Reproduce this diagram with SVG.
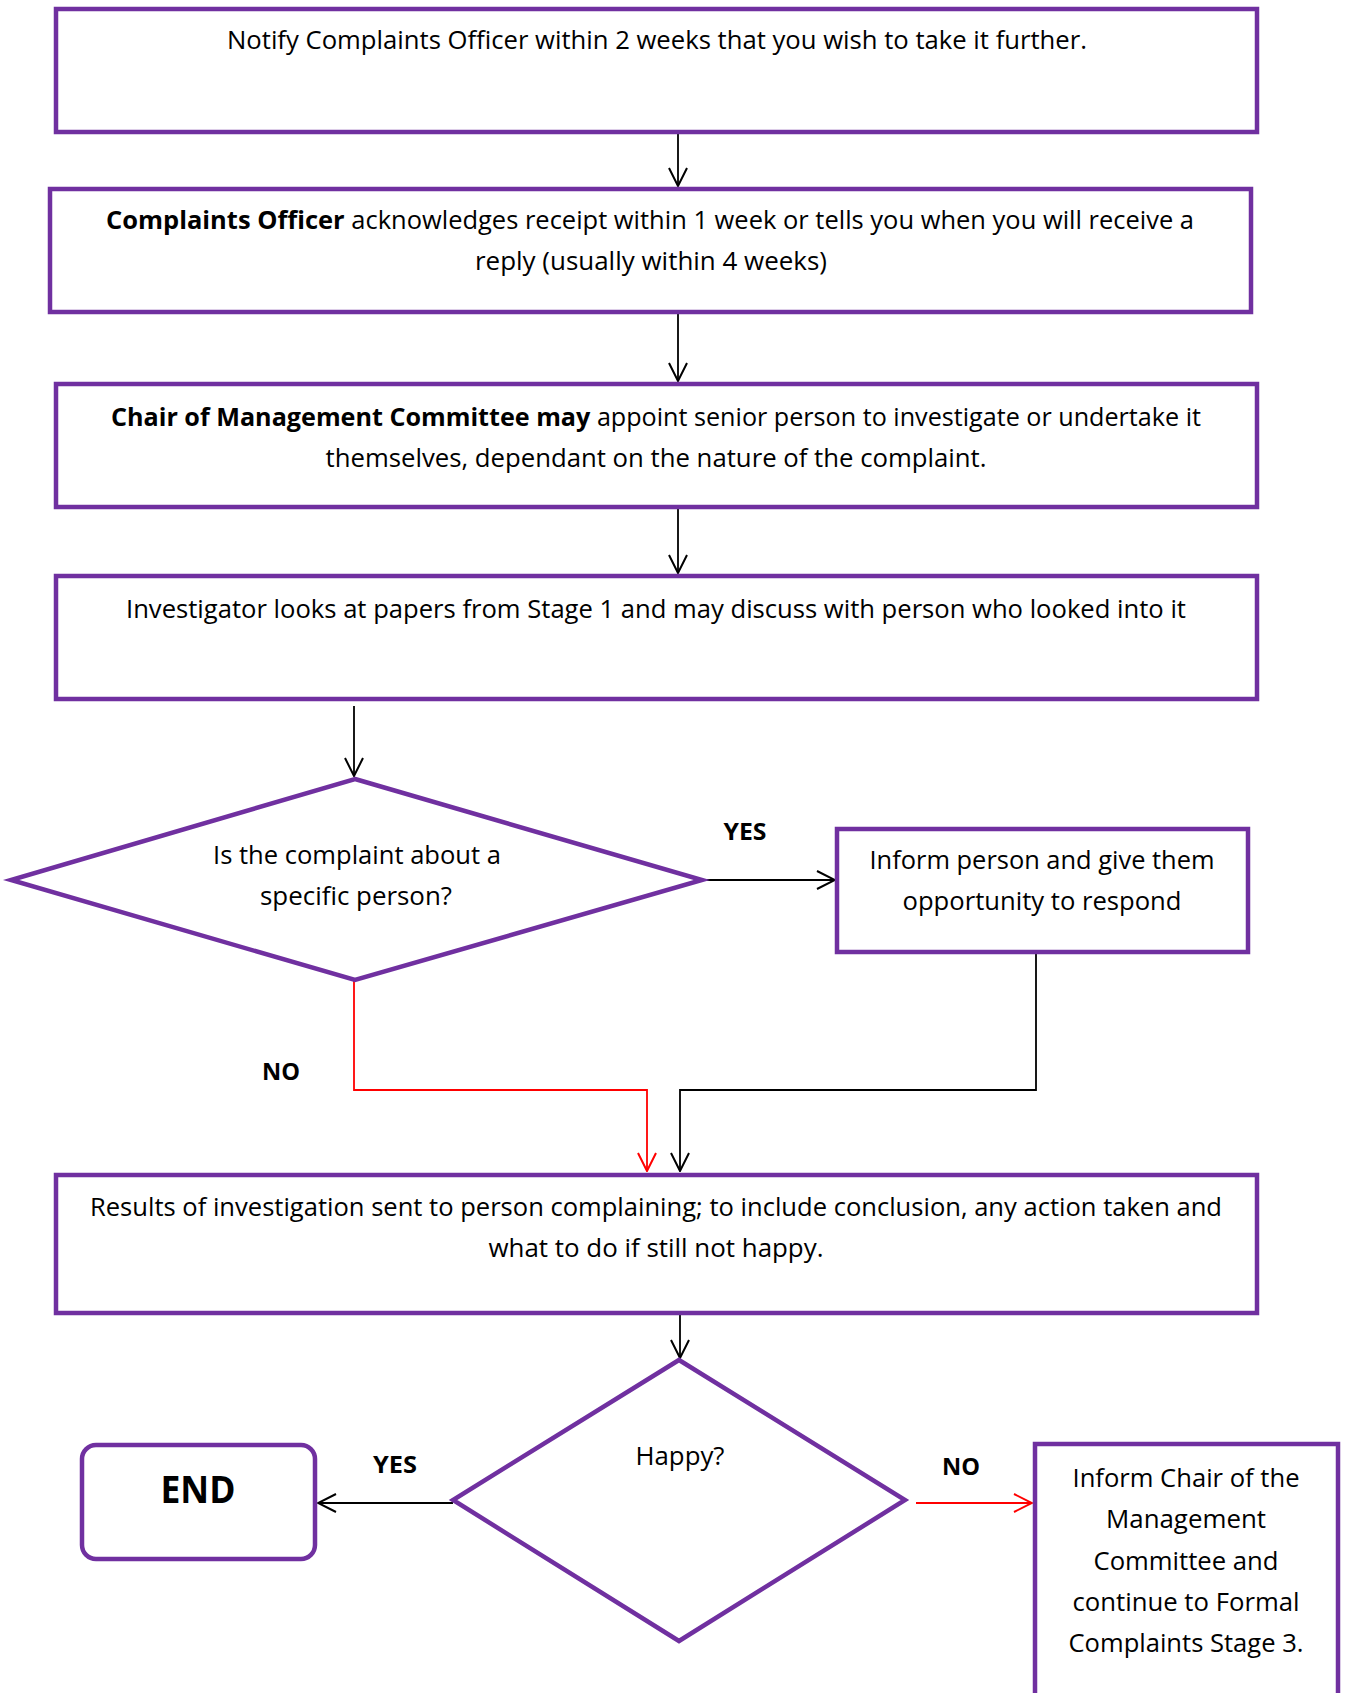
<svg xmlns="http://www.w3.org/2000/svg" width="1346" height="1693" viewBox="0 0 1346 1693">
<style>
.box{fill:#fff;stroke:#7030A0;stroke-width:4.5}
.t{font-family:"Open Sans","Liberation Sans",Arial,sans-serif;font-size:25px;fill:#000;text-anchor:middle}
.b{font-weight:bold}
.lbl{font-family:"Open Sans","Liberation Sans",Arial,sans-serif;font-size:24px;font-weight:bold;fill:#000;text-anchor:middle}
.c{fill:none;stroke:#000;stroke-width:1.8}
.r{fill:none;stroke:#FF0000;stroke-width:1.8}
</style>
<defs>
<marker id="ak" viewBox="0 0 20 20" refX="19" refY="10" markerWidth="20" markerHeight="20" markerUnits="userSpaceOnUse" orient="auto"><path d="M1,1 L19,10 L1,19" fill="none" stroke="#000" stroke-width="2"/></marker>
<marker id="ar" viewBox="0 0 20 20" refX="19" refY="10" markerWidth="20" markerHeight="20" markerUnits="userSpaceOnUse" orient="auto"><path d="M1,1 L19,10 L1,19" fill="none" stroke="#FF0000" stroke-width="2"/></marker>
</defs>
<rect width="1346" height="1693" fill="#fff"/>
<g id="connectors">
<path class="c" d="M678,132 V186" marker-end="url(#ak)"/>
<path class="c" d="M678,312 V381" marker-end="url(#ak)"/>
<path class="c" d="M678,503 V573" marker-end="url(#ak)"/>
<path class="c" d="M354,706 V776" marker-end="url(#ak)"/>
<path class="c" d="M702,880 H835" stroke-width="2.6" marker-end="url(#ak)"/>
<path class="c" d="M1036,952 V1090 H680 V1171" marker-end="url(#ak)"/>
<path class="r" d="M354,980 V1090 H647 V1171" marker-end="url(#ar)"/>
<path class="c" d="M680,1313 V1358" marker-end="url(#ak)"/>
<path class="c" d="M453,1503 H318" stroke-width="2.6" marker-end="url(#ak)"/>
<path class="r" d="M916,1503 H1032" stroke-width="2.6" marker-end="url(#ar)"/>
<text class="lbl" x="745" y="840" textLength="43" lengthAdjust="spacingAndGlyphs">YES</text>
<text class="lbl" x="281" y="1080" textLength="38" lengthAdjust="spacingAndGlyphs">NO</text>
<text class="lbl" x="395" y="1473" textLength="44" lengthAdjust="spacingAndGlyphs">YES</text>
<text class="lbl" x="961" y="1475" textLength="38" lengthAdjust="spacingAndGlyphs">NO</text>
</g>
<g id="n1">
<rect class="box" x="56" y="9" width="1201" height="123"/>
<text class="t" x="657" y="49" textLength="860" lengthAdjust="spacingAndGlyphs">Notify Complaints Officer within 2 weeks that you wish to take it further.</text>
</g>
<g id="n2">
<rect class="box" x="50" y="189" width="1201" height="123"/>
<text class="t" x="650" y="229" textLength="1088" lengthAdjust="spacingAndGlyphs"><tspan class="b">Complaints Officer</tspan> acknowledges receipt within 1 week or tells you when you will receive a</text>
<text class="t" x="651" y="270" textLength="352" lengthAdjust="spacingAndGlyphs">reply (usually within 4 weeks)</text>
</g>
<g id="n3">
<rect class="box" x="56" y="384" width="1201" height="123"/>
<text class="t" x="656" y="426" textLength="1090" lengthAdjust="spacingAndGlyphs"><tspan class="b">Chair of Management Committee may</tspan> appoint senior person to investigate or undertake it</text>
<text class="t" x="656" y="467" textLength="661" lengthAdjust="spacingAndGlyphs">themselves, dependant on the nature of the complaint.</text>
</g>
<g id="n4">
<rect class="box" x="56" y="576" width="1201" height="123"/>
<text class="t" x="656" y="618" textLength="1060" lengthAdjust="spacingAndGlyphs">Investigator looks at papers from Stage 1 and may discuss with person who looked into it</text>
</g>
<g id="n5">
<polygon class="box" points="355,779 702,880 355,980 11,880"/>
<text class="t" x="357" y="864" textLength="288" lengthAdjust="spacingAndGlyphs">Is the complaint about a</text>
<text class="t" x="356" y="905" textLength="192" lengthAdjust="spacingAndGlyphs">specific person?</text>
</g>
<g id="n6">
<rect class="box" x="837" y="829" width="411" height="123"/>
<text class="t" x="1042" y="869" textLength="345" lengthAdjust="spacingAndGlyphs">Inform person and give them</text>
<text class="t" x="1042" y="910" textLength="279" lengthAdjust="spacingAndGlyphs">opportunity to respond</text>
</g>
<g id="n7">
<rect class="box" x="56" y="1175" width="1201" height="138"/>
<text class="t" x="656" y="1216" textLength="1132" lengthAdjust="spacingAndGlyphs">Results of investigation sent to person complaining; to include conclusion, any action taken and</text>
<text class="t" x="656" y="1257" textLength="335" lengthAdjust="spacingAndGlyphs">what to do if still not happy.</text>
</g>
<g id="n8">
<polygon class="box" points="679,1360 905,1500 679,1641 453,1500"/>
<text class="t" x="680" y="1465" textLength="89" lengthAdjust="spacingAndGlyphs">Happy?</text>
</g>
<g id="n9">
<rect class="box" x="82" y="1445" width="233" height="114" rx="14"/>
<text class="t b" x="198" y="1503" style="font-size:37px" textLength="75" lengthAdjust="spacingAndGlyphs">END</text>
</g>
<g id="n10">
<rect class="box" x="1035" y="1444" width="303" height="290"/>
<text class="t" x="1186" y="1487" textLength="227" lengthAdjust="spacingAndGlyphs">Inform Chair of the</text>
<text class="t" x="1186" y="1528" textLength="160" lengthAdjust="spacingAndGlyphs">Management</text>
<text class="t" x="1186" y="1570" textLength="185" lengthAdjust="spacingAndGlyphs">Committee and</text>
<text class="t" x="1186" y="1611" textLength="227" lengthAdjust="spacingAndGlyphs">continue to Formal</text>
<text class="t" x="1186" y="1652" textLength="235" lengthAdjust="spacingAndGlyphs">Complaints Stage 3.</text>
</g>
</svg>
